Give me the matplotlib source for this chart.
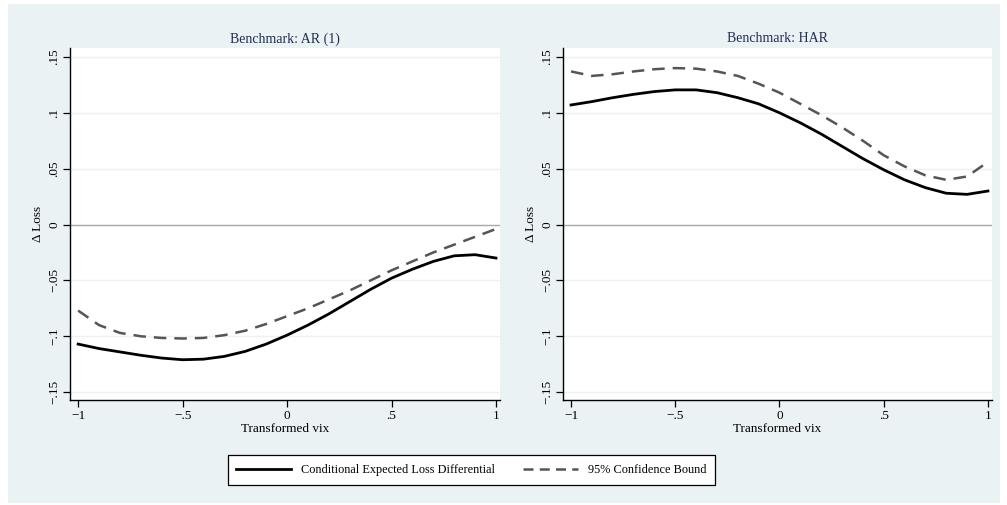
import matplotlib.pyplot as plt
from matplotlib.patches import Rectangle
from matplotlib.lines import Line2D

plt.rcParams['font.family'] = ['Liberation Serif', 'DejaVu Serif']

# grid of transformed vix values
x = [-1.0, -0.9, -0.8, -0.7, -0.6, -0.5, -0.4, -0.3, -0.2, -0.1, 0.0,
     0.1, 0.2, 0.3, 0.4, 0.5, 0.6, 0.7, 0.8, 0.9, 1.0]

# Benchmark: AR (1)
ar_diff = [-0.107, -0.111, -0.114, -0.117, -0.1195, -0.121, -0.1205, -0.118, -0.1135, -0.107, -0.099,
           -0.090, -0.080, -0.069, -0.058, -0.048, -0.040, -0.033, -0.028, -0.027, -0.030]
ar_bound = [-0.077, -0.090, -0.097, -0.100, -0.1015, -0.102, -0.1015, -0.099, -0.095, -0.089, -0.082,
            -0.075, -0.067, -0.059, -0.050, -0.041, -0.033, -0.025, -0.018, -0.011, -0.004]

# Benchmark: HAR
har_diff = [0.107, 0.110, 0.1135, 0.1165, 0.119, 0.1205, 0.1205, 0.118, 0.1135, 0.108, 0.100,
            0.091, 0.081, 0.070, 0.059, 0.049, 0.040, 0.033, 0.028, 0.027, 0.030]
har_bound = [0.137, 0.133, 0.1345, 0.137, 0.139, 0.140, 0.1395, 0.137, 0.133, 0.126, 0.118,
             0.108, 0.098, 0.087, 0.075, 0.062, 0.052, 0.044, 0.040, 0.043, 0.056]

titles = ['Benchmark: AR (1)', 'Benchmark: HAR']
xticks = [-1, -0.5, 0, 0.5, 1]
xlabels = ['\u22121', '\u2212.5', '0', '.5', '1']
yticks = [-0.15, -0.1, -0.05, 0, 0.05, 0.1, 0.15]
ylabels = ['\u2212.15', '\u2212.1', '\u2212.05', '0', '.05', '.1', '.15']

bg = '#eaf2f3'
title_col = '#1f2d55'
dash_col = '#555555'

fig = plt.figure(figsize=(10.07, 5.05), dpi=100, facecolor='white')
fig.patches.append(Rectangle((8 / 1007, 2 / 505), 992 / 1007, 499 / 505,
                             transform=fig.transFigure, facecolor=bg, edgecolor='none', zorder=-10))

positions = [[0.0695, 0.208, 0.427, 0.697], [0.559, 0.208, 0.426, 0.697]]
series = [(ar_diff, ar_bound), (har_diff, har_bound)]

for pos, title, (diff, bound) in zip(positions, titles, series):
    ax = fig.add_axes(pos)
    ax.set_facecolor('white')
    for yt in yticks:
        if yt != 0:
            ax.axhline(yt, color='#eaf2f3', lw=1.0, zorder=0)
    ax.axhline(0, color='#a8a8a8', lw=1.0, zorder=1)
    ax.plot(x, diff, color='black', lw=2.0, zorder=3)
    ax.plot(x, bound, color=dash_col, lw=1.8, dashes=(5, 3.2), zorder=3)
    ax.set_xlim(-1.039, 1.019)
    ax.set_ylim(-0.157, 0.158)
    ax.set_xticks(xticks)
    ax.set_xticklabels(xlabels, fontsize=9.5)
    ax.set_yticks(yticks)
    ax.set_yticklabels(ylabels, fontsize=9.5, rotation=90, va='center')
    ax.tick_params(direction='out', length=5, width=0.9, color='black', pad=2)
    for s in ['top', 'right']:
        ax.spines[s].set_visible(False)
    for s in ['left', 'bottom']:
        ax.spines[s].set_linewidth(1.0)
        ax.spines[s].set_color('black')
    ax.set_xlabel('Transformed vix', fontsize=9.5, labelpad=1)
    ax.set_ylabel('\u0394 Loss', fontsize=9.5, labelpad=3)
    ax.set_title(title, fontsize=10, color=title_col, pad=4)

handles = [Line2D([], [], color='black', lw=2.0),
           Line2D([], [], color=dash_col, lw=1.8, dashes=(4, 2.5))]
leg = fig.legend(handles, ['Conditional Expected Loss Differential', '95% Confidence Bound'],
                 loc='center', bbox_to_anchor=(471.5 / 1007, 1 - 470 / 505), ncol=2,
                 fontsize=8.8, frameon=True, fancybox=False, handlelength=4.5,
                 columnspacing=2.3, handletextpad=0.8, borderpad=0.7, borderaxespad=0)
leg.get_frame().set_edgecolor('black')
leg.get_frame().set_linewidth(0.9)
leg.get_frame().set_facecolor('white')
leg.get_frame().set_alpha(1)

fig.savefig('out.png', dpi=100, facecolor='white')
